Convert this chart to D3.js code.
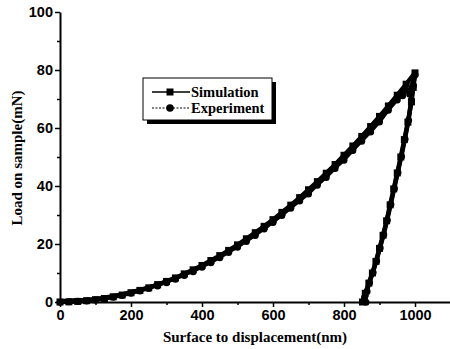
<!DOCTYPE html>
<html>
<head>
<meta charset="utf-8">
<script src="https://cdnjs.cloudflare.com/ajax/libs/d3/7.8.5/d3.min.js"></script>
<style>
  body { margin: 0; background: #fff; }
  .tick text { font-family: "Liberation Sans", Arial, sans-serif; font-weight: bold; font-size: 14.5px; }
  .ttl { font-family: "Liberation Serif", "Times New Roman", serif; font-weight: bold; font-size: 15px; }
</style>
</head>
<body>
<div id="chart"></div>
<script>
// displacement (nm) and load (mN)
const simX = [0, 25, 50, 75, 100, 125, 150, 175, 200, 225, 250, 275, 300, 325, 350, 375, 400, 425, 450, 475, 500,
  525, 550, 575, 600, 625, 650, 675, 700, 725, 750, 775, 800, 825, 850, 875, 900, 925, 950, 975, 1000,
  995, 990, 980, 970, 960, 950, 940, 930, 920, 910, 900, 890, 880, 870, 860, 852];
const simY = [0, 0.05, 0.2, 0.45, 0.8, 1.2, 1.8, 2.4, 3.2, 4.0, 4.9, 6.0, 7.1, 8.3, 9.7, 11.1, 12.6, 14.3, 16.0, 17.8, 19.7,
  21.8, 23.9, 26.1, 28.4, 30.9, 33.4, 36.0, 38.7, 41.5, 44.4, 47.4, 50.6, 53.8, 57.1, 60.5, 64.0, 67.6, 71.3, 75.1, 79.0,
  74, 69, 62, 56, 50, 44.5, 39, 33.5, 28, 23, 18.5, 14, 10, 6.5, 3, 0];

const expX = [0, 25, 50, 75, 100, 125, 150, 175, 200, 225, 250, 275, 300, 325, 350, 375, 400, 425, 450, 475, 500,
  525, 550, 575, 600, 625, 650, 675, 700, 725, 750, 775, 800, 825, 850, 875, 900, 925, 950, 965, 975, 985, 1000,
  996, 990, 982, 972, 962, 952, 942, 932, 922, 912, 902, 892, 882, 872, 865, 858, 855, 862];
const expY = [0.3, 0.4, 0.6, 0.7, 1.0, 1.5, 2.0, 2.6, 3.4, 4.1, 5.0, 5.9, 7.0, 8.2, 9.5, 10.8, 12.3, 13.9, 15.6, 17.4, 19.2,
  21.2, 23.3, 25.5, 27.8, 30.2, 32.7, 35.2, 37.6, 40.6, 43.3, 46.4, 49.2, 52.6, 55.8, 59.0, 62.4, 66.5, 70.0, 71.5, 73.4, 72.0, 78.6,
  75, 70, 63, 56.5, 50.5, 45, 39.5, 34, 28.5, 23.5, 19, 14.5, 10.5, 7, 4, 2, 0.5, 0.3];

const xTicks = [0, 200, 400, 600, 800, 1000];
const yTicks = [0, 20, 40, 60, 80, 100];
const legendNames = ["Simulation", "Experiment"];

const width = 450, height = 349;
const svg = d3.select("#chart").append("svg")
  .attr("width", width).attr("height", height);

const x = d3.scaleLinear().domain([0, 1100]).range([60, 450.5]);
const y = d3.scaleLinear().domain([0, 100]).range([302, 12]);

// minor ticks first
svg.append("g")
  .attr("transform", "translate(0,302)")
  .call(d3.axisBottom(x).tickValues([100, 300, 500, 700, 900, 1100]).tickSize(3).tickFormat(""))
  .call(g => g.select(".domain").remove())
  .selectAll("line").attr("stroke-width", 1.5);
svg.append("g")
  .attr("transform", "translate(60,0)")
  .call(d3.axisLeft(y).tickValues([10, 30, 50, 70, 90]).tickSize(3).tickFormat(""))
  .call(g => g.select(".domain").remove())
  .selectAll("line").attr("stroke-width", 1.5);

const xAxis = svg.append("g")
  .attr("transform", "translate(0,302)")
  .call(d3.axisBottom(x).tickValues(xTicks).tickFormat(d3.format("d"))
    .tickSize(5).tickSizeOuter(0).tickPadding(3));
const yAxis = svg.append("g")
  .attr("transform", "translate(60,0)")
  .call(d3.axisLeft(y).tickValues(yTicks).tickSize(5).tickSizeOuter(0).tickPadding(2));
[xAxis, yAxis].forEach(a => {
  a.select(".domain").attr("stroke-width", 2);
  a.selectAll(".tick line").attr("stroke-width", 1.5);
});

const line = d3.line().x(d => x(d[0])).y(d => y(d[1]));
const simData = simX.map((v, i) => [v, simY[i]]);
const expData = expX.map((v, i) => [v, expY[i]]);

svg.append("path").datum(expData)
  .attr("fill", "none").attr("stroke", "#000").attr("stroke-width", 4.5)
  .attr("stroke-linejoin", "round")
  .attr("d", line);
svg.append("path").datum(simData)
  .attr("fill", "none").attr("stroke", "#000").attr("stroke-width", 4.5)
  .attr("stroke-linejoin", "round")
  .attr("d", line);

svg.selectAll(".expPt").data(expData).enter().append("circle")
  .attr("cx", d => x(d[0])).attr("cy", d => y(d[1]) + 1).attr("r", 3.5);
svg.selectAll(".simPt").data(simData).enter().append("rect")
  .attr("x", d => x(d[0]) - 3.5).attr("y", d => y(d[1]) - 3.5)
  .attr("width", 7).attr("height", 7);

// legend
const lg = svg.append("g");
lg.append("rect").attr("x", 147).attr("y", 82).attr("width", 129).attr("height", 42).attr("fill", "#000");
lg.append("rect").attr("x", 143).attr("y", 78).attr("width", 129).attr("height", 42)
  .attr("fill", "#fff").attr("stroke", "#000").attr("stroke-width", 1);
legendNames.forEach((name, i) => {
  const yy = 92 + i * 16;
  lg.append("line").attr("x1", 152).attr("x2", 190).attr("y1", yy).attr("y2", yy)
    .attr("stroke", i === 0 ? "#000" : "#555").attr("stroke-width", 1.3)
    .attr("stroke-dasharray", i === 0 ? null : "2,1.5");
  if (i === 0) {
    lg.append("rect").attr("x", 166.5).attr("y", yy - 3.5).attr("width", 7).attr("height", 7);
  } else {
    lg.append("circle").attr("cx", 170).attr("cy", yy).attr("r", 3.8);
  }
  lg.append("text").attr("class", "ttl").attr("x", 191).attr("y", yy + 5)
    .style("font-size", "14.5px").text(name);
});

svg.append("text").attr("class", "ttl")
  .attr("x", 255).attr("y", 342).attr("text-anchor", "middle")
  .text("Surface to displacement(nm)");
svg.append("text").attr("class", "ttl")
  .attr("transform", "translate(22,158) rotate(-90)").attr("text-anchor", "middle")
  .text("Load on sample(mN)");
</script>
</body>
</html>
